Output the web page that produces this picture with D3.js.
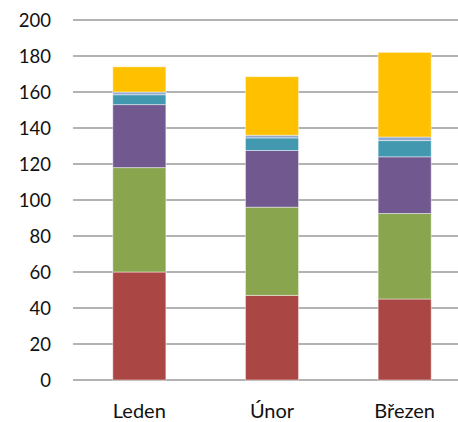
<!DOCTYPE html>
<html>
<head>
<meta charset="utf-8">
<script src="https://cdn.jsdelivr.net/npm/d3@7"></script>
<style>
  html, body { margin: 0; padding: 0; background: #fff; }
  svg { display: block; }
  text { font-family: Lato, "Open Sans", sans-serif; fill: #111; }
</style>
</head>
<body>
<svg id="chart" width="458" height="422"></svg>
<script>
// Monthly totals split into six stacked components
const months = ["Leden", "Únor", "Březen"];
const seriesNames = ["s1", "s2", "s3", "s4", "s5", "s6"];
const s1 = [60, 47, 45];
const s2 = [58, 49, 47.5];
const s3 = [35, 31.5, 31.5];
const s4 = [5.5, 7, 9];
const s5 = [1.5, 1.5, 2];
const s6 = [14, 32.5, 47];
const yTicks = [0, 20, 40, 60, 80, 100, 120, 140, 160, 180, 200];
const colors = ["#AA4643", "#89A54E", "#71588F", "#4198AF", "#93A9CF", "#FFC000"];

const seriesValues = [s1, s2, s3, s4, s5, s6];
const rows = months.map((m, i) => {
  const r = { month: m };
  seriesNames.forEach((k, j) => { r[k] = seriesValues[j][i]; });
  return r;
});

const svg = d3.select("#chart");
const plotLeft = 73, plotRight = 471, plotTop = 20, plotBottom = 380;

const x = d3.scaleBand().domain(months).range([plotLeft, plotRight]).paddingInner(0.6).paddingOuter(0.3);
const y = d3.scaleLinear().domain([0, 200]).range([plotBottom, plotTop]);

// horizontal gridlines
svg.append("g").selectAll("line").data(yTicks).join("line")
  .attr("x1", plotLeft).attr("x2", plotRight)
  .attr("y1", d => y(d)).attr("y2", d => y(d))
  .attr("stroke", "#9a9a9a").attr("stroke-width", 1.6);

// y tick labels
svg.append("g").selectAll("text").data(yTicks).join("text")
  .attr("x", 51).attr("y", d => y(d))
  .attr("text-anchor", "end").attr("dominant-baseline", "central")
  .style("font-size", "18.5px")
  .text(d => d);

// stacked bars
const stack = d3.stack().keys(seriesNames)(rows);
svg.append("g").selectAll("g").data(stack).join("g")
  .attr("fill", (d, i) => colors[i])
  .selectAll("rect").data(d => d).join("rect")
  .attr("x", d => x(d.data.month))
  .attr("width", x.bandwidth())
  .attr("y", d => y(d[1]))
  .attr("height", d => y(d[0]) - y(d[1]))
  .attr("stroke", "rgba(255,255,255,0.45)")
  .attr("stroke-width", 1);

// category labels
svg.append("g").selectAll("text").data(months).join("text")
  .attr("x", d => x(d) + x.bandwidth() / 2).attr("y", 418)
  .attr("text-anchor", "middle")
  .style("font-size", "20px")
  .text(d => d);
</script>
</body>
</html>
